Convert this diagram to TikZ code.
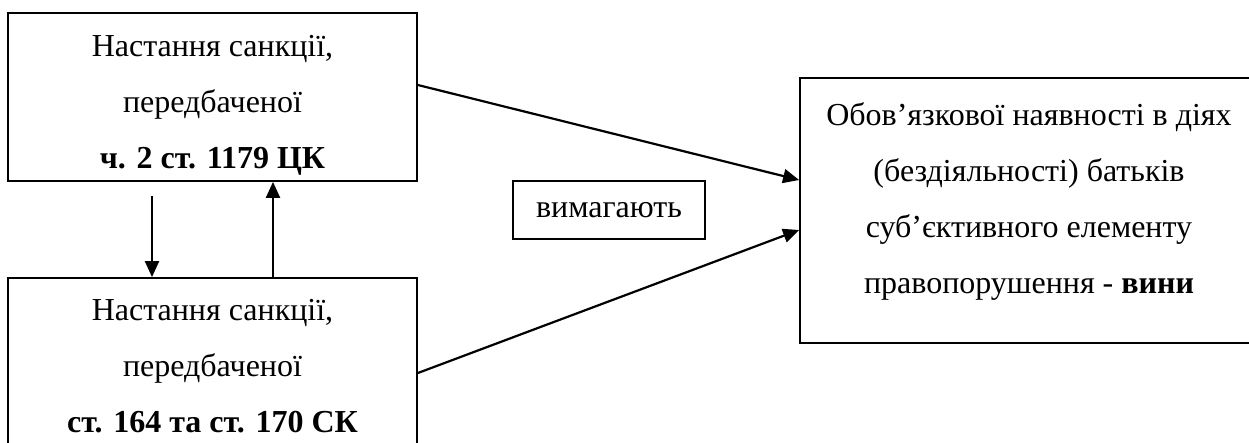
\documentclass[tikz,border=0pt]{standalone}
\usepackage{fontspec}
\setmainfont{Liberation Serif}
\usetikzlibrary{arrows.meta, positioning}

\begin{document}
\begin{tikzpicture}[x=0.5pt, y=-0.5pt,
        % Set global font size for consistency
        font=\fontsize{16}{28}\selectfont,
        % Define reusable styles for different elements of the diagram
        box/.style={draw=black, line width=0.9pt, inner sep=0pt},
        boxtext/.style={anchor=north, align=center, inner sep=0pt},
        link/.style={-{Triangle[length=8pt, width=7pt]}, line width=1.1pt}
    ]

    \useasboundingbox (0, 0) rectangle (1249, 443);
    \clip (0, 0) rectangle (1249, 443);

    % Boxes
    \node[box, minimum width=204.5pt, minimum height=84pt] (code) at (212.5, 97) {};
    \node[box, minimum width=204.5pt, minimum height=96pt] (family) at (212.5, 374) {};
    \node[box, minimum width=229pt, minimum height=132.5pt] (guilt) at (1029, 210.5) {};
    \node[box, minimum width=96pt, minimum height=29pt] (demand) at (609, 210) {вимагають};

    % Box texts
    \node[boxtext] (codetext) at (212.5, 35)
        {Настання санкції,\\передбаченої\\\textbf{ч. 2 ст. 1179 ЦК}};
    \node[boxtext] (familytext) at (212.5, 299)
        {Настання санкції,\\передбаченої\\\textbf{ст. 164 та ст. 170 СК}};
    \node[boxtext] (guilttext) at (1029, 102)
        {Обов’язкової наявності в діях\\(бездіяльності) батьків\\суб’єктивного елементу\\правопорушення - \textbf{вини}};

    % Arrows between boxes
    \draw[link] ([xshift=-30.25pt, yshift=-7pt]code.south) -- ([xshift=-30.25pt]family.north);
    \draw[link] ([xshift=30.25pt]family.north) -- ([xshift=30.25pt]code.south);
    \draw[link] ([yshift=6pt]code.east) -- ([yshift=15.25pt]guilt.west);
    \draw[link] ([yshift=0.5pt]family.east) -- ([yshift=-9.75pt]guilt.west);

\end{tikzpicture}
\end{document}
